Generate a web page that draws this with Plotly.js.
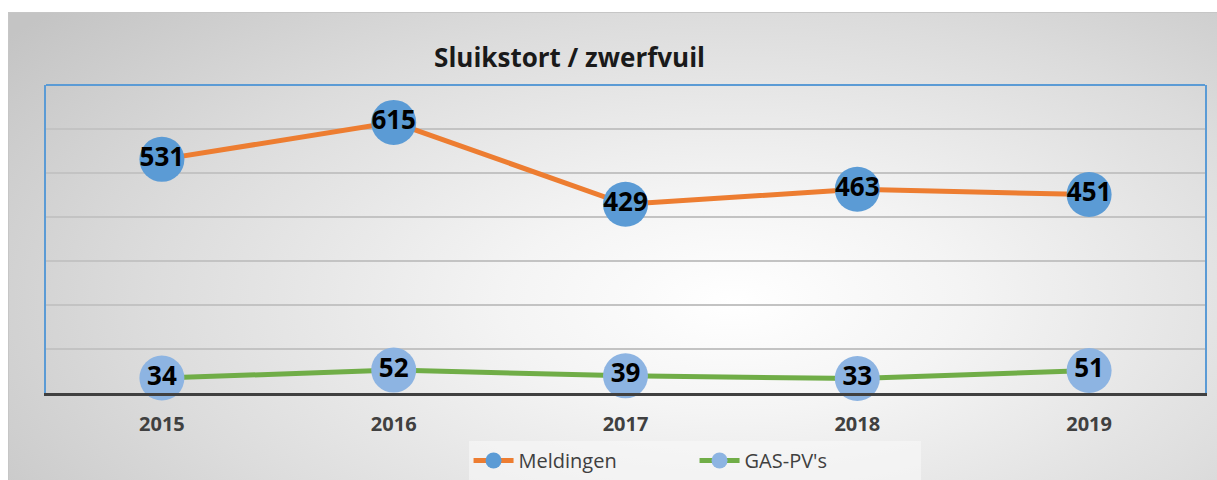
<!DOCTYPE html>
<html>
<head>
<meta charset="utf-8">
<script src="https://cdn.plot.ly/plotly-3.0.1.min.js"></script>
<style>
  html, body { margin: 0; padding: 0; background: #ffffff; width: 1217px; height: 480px; overflow: hidden; }
  #bg { position: absolute; left: 8px; top: 12px; width: 1209px; height: 468px;
        border-top: 1px solid #c6c6c6; border-left: 1px solid #c6c6c6; box-sizing: border-box;
        background: radial-gradient(ellipse 75% 95% at 60% 62%, #ffffff 0%, #f4f4f4 25%, #dcdcdc 65%, #c4c4c4 100%); }
  #chart { position: absolute; left: 0; top: 0; width: 1217px; height: 480px; }
</style>
</head>
<body>
<div id="bg"></div>
<div id="chart"></div>
<script>
const years = ['2015', '2016', '2017', '2018', '2019'];
const meldingen = [531, 615, 429, 463, 451];
const gasPv = [34, 52, 39, 33, 51];

const labelFont = { family: 'Open Sans, Liberation Sans, sans-serif', size: 26, color: '#000000', weight: 700 };

const traces = [
  {
    x: years, y: meldingen, name: 'Meldingen', type: 'scatter', mode: 'lines+markers+text',
    line: { color: '#ED7D31', width: 5 },
    marker: { color: '#5B9BD5', size: 45, line: { width: 0 } },
    text: meldingen.map(String), textposition: 'middle center', textfont: labelFont,
    cliponaxis: false, hoverinfo: 'x+y'
  },
  {
    x: years, y: gasPv, name: "GAS-PV's", type: 'scatter', mode: 'lines+markers+text',
    line: { color: '#70AD47', width: 5 },
    marker: { color: '#8DB4E2', size: 45, line: { width: 0 } },
    text: gasPv.map(String), textposition: 'middle center', textfont: labelFont,
    cliponaxis: false, hoverinfo: 'x+y'
  }
];

const layout = {
  width: 1217, height: 480,
  margin: { l: 46, r: 12, t: 85, b: 87, autoexpand: false },
  paper_bgcolor: 'rgba(0,0,0,0)',
  plot_bgcolor: 'rgba(0,0,0,0)',
  title: {
    text: 'Sluikstort / zwerfvuil',
    font: { family: 'Open Sans, Liberation Sans, sans-serif', size: 26, color: '#1a1a1a', weight: 700 },
    x: 0.468, xref: 'container', xanchor: 'center',
    y: 0.879, yref: 'container', yanchor: 'middle'
  },
  xaxis: {
    type: 'category', range: [-0.5, 4.5], fixedrange: true,
    showgrid: false, zeroline: false,
    showline: true, linecolor: '#404040', linewidth: 3,
    ticks: '', ticklabelstandoff: 11,
    tickfont: { family: 'Open Sans, Liberation Sans, sans-serif', size: 20, color: '#404040', weight: 700 }
  },
  yaxis: {
    range: [0, 700], dtick: 100, fixedrange: true,
    showgrid: true, gridcolor: '#c3c3c3', gridwidth: 1.5,
    zeroline: false, showticklabels: false, ticks: '',
    showline: true, linecolor: '#5B9BD5', linewidth: 2, mirror: true
  },
  shapes: [
    { type: 'line', xref: 'paper', yref: 'paper', x0: 0, x1: 1, y0: 1, y1: 1,
      line: { color: '#5B9BD5', width: 2 } }
  ],
  showlegend: true,
  legend: {
    orientation: 'h', xref: 'container', x: 0.385, xanchor: 'left',
    yref: 'container', y: 0.0, yanchor: 'bottom',
    bgcolor: 'rgba(250,250,250,0.55)',
    font: { family: 'Open Sans, Liberation Sans, sans-serif', size: 20, color: '#404040' },
    entrywidth: 171, entrywidthmode: 'pixels', itemwidth: 40, tracegroupgap: 0
  }
};

Plotly.newPlot('chart', traces, layout, { displayModeBar: false, staticPlot: true });
</script>
</body>
</html>
